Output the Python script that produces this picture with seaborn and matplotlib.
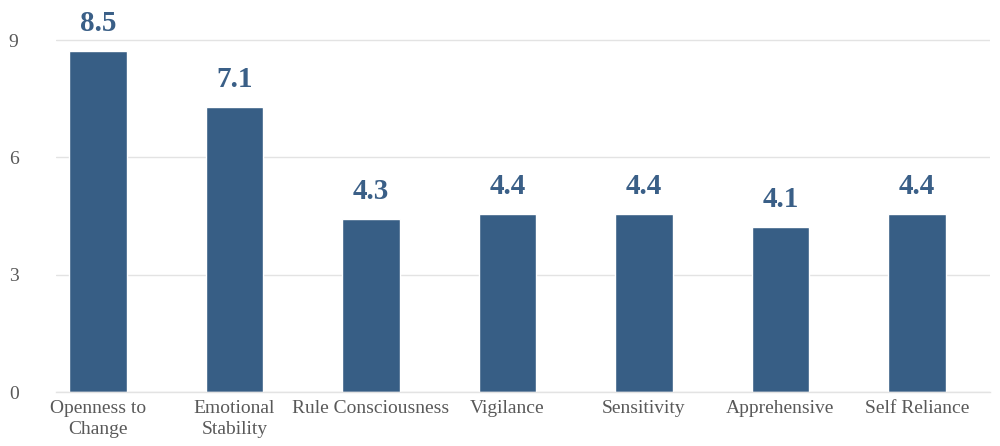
import matplotlib
matplotlib.use("Agg")
import matplotlib.pyplot as plt
import seaborn as sns
import pandas as pd

categories = ["Openness to\nChange", "Emotional\nStability", "Rule Consciousness",
              "Vigilance", "Sensitivity", "Apprehensive", "Self Reliance"]
values = [8.72, 7.29, 4.42, 4.55, 4.55, 4.22, 4.55]
value_labels = ["8.5", "7.1", "4.3", "4.4", "4.4", "4.1", "4.4"]
yticks = [0, 3, 6, 9]

sns.set_theme(style="white")
plt.rcParams['font.family'] = ['Liberation Serif', 'DejaVu Serif']

df = pd.DataFrame({"category": categories, "value": values})

fig = plt.figure(figsize=(10, 4.46), dpi=100)
ax = fig.add_axes([0.056, 0.121, 0.934, 0.877])
sns.barplot(data=df, x="category", y="value", color="#375E85", saturation=1,
            width=0.42, ax=ax)

ax.set_xlim(-0.308, 6.535)
ax.set_ylim(0, 10)
ax.set_yticks(yticks)
ax.set_yticklabels([str(t) for t in yticks])
ax.yaxis.grid(True, color="#E3E3E3", linewidth=1)
ax.set_axisbelow(True)
for s in ["top", "right", "left"]:
    ax.spines[s].set_visible(False)
ax.spines["bottom"].set_color("#E3E3E3")
ax.spines["bottom"].set_linewidth(1)
ax.set_xlabel("")
ax.set_ylabel("")
ax.tick_params(axis="y", length=0, pad=27, labelsize=14, labelcolor="#595959")
ax.tick_params(axis="x", length=0, pad=6, labelsize=14, labelcolor="#595959")
for lbl in ax.get_xticklabels():
    lbl.set_linespacing(1.3)

for i, (v, t) in enumerate(zip(values, value_labels)):
    ax.annotate(t, (i, v), xytext=(0, 10), textcoords="offset points",
                ha="center", va="bottom", fontsize=21, fontweight="bold",
                color="#3A5F87")

fig.savefig("out.png", dpi=100)
